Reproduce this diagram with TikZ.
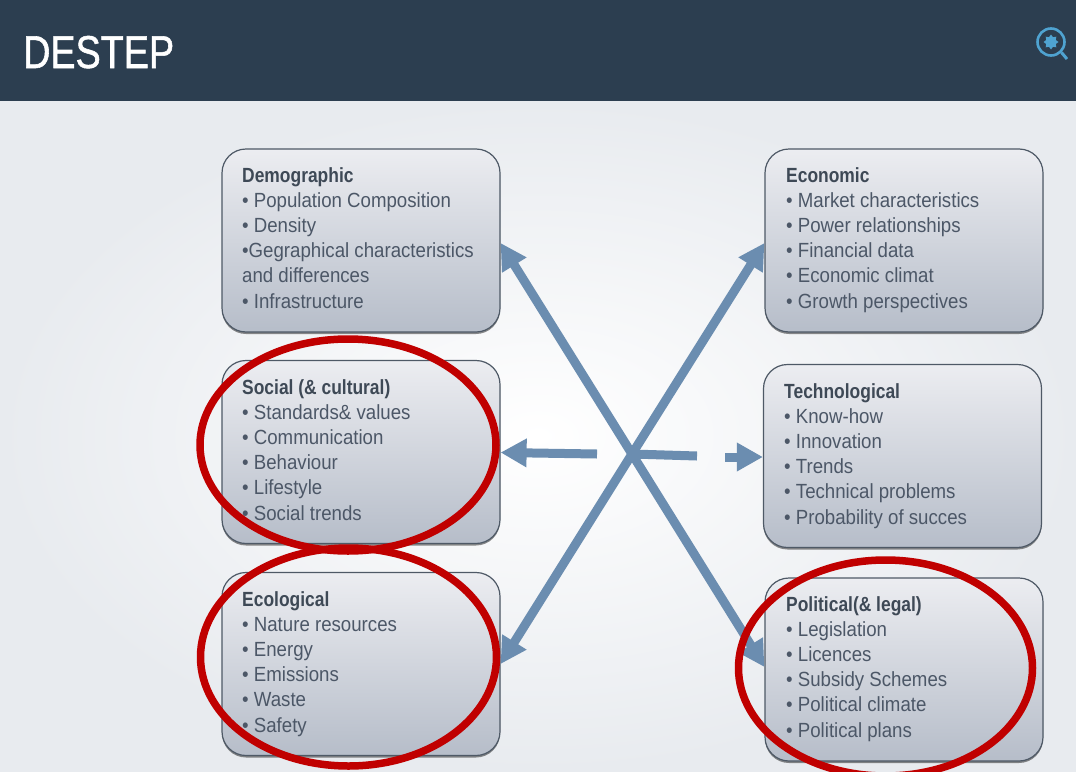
\documentclass[tikz,border=0pt]{standalone}
\usepackage{fontspec}
\setmainfont[FakeStretch=0.91,BoldFeatures={FakeStretch=0.85}]{Liberation Sans}
\newfontfamily\titlefont[FakeStretch=0.82,FakeBold=1.2]{Liberation Sans}
\usetikzlibrary{arrows.meta,shapes.geometric,shadows}
\definecolor{hdr}{HTML}{2C3E50}
\definecolor{bgedge}{HTML}{E8EBEF}
\definecolor{boxtop}{HTML}{ECEDF1}
\definecolor{boxbot}{HTML}{B6BDC9}
\definecolor{boxline}{HTML}{4E5966}
\definecolor{txt}{HTML}{4C5767}
\definecolor{ttl}{HTML}{3E4956}
\definecolor{arr}{HTML}{6B8DB0}
\definecolor{ring}{HTML}{C00000}
\definecolor{icon}{HTML}{4FA3D1}
\tikzset{
  x=1pt,y=-1pt,
  panel/.style={draw=boxline,line width=1.2pt,rounded corners=24pt,minimum width=278pt,minimum height=183pt,
    top color=boxtop,bottom color=boxbot,drop shadow={shadow xshift=0pt,shadow yshift=-2pt,opacity=.45,fill=black}},
  copy/.style={anchor=north west,inner sep=0pt,align=left,text=txt,font=\fontsize{20.5}{25.2}\selectfont},
  ringmark/.style={draw=ring,line width=7.5pt,ellipse,inner sep=0pt},
  bar/.style={draw=arr,line width=9pt},
  tipbar/.style={bar,-{Triangle[length=26pt,width=27pt,fill=arr]}},
}
\newcommand{\hd}[1]{{\color{ttl}\bfseries #1}}
\begin{document}
\begin{tikzpicture}
\useasboundingbox (0,0) rectangle (1076,771);
\path[inner color=white,outer color=bgedge] (0,101) rectangle (1076,771);
\fill[hdr] (0,0) rectangle (1076,101);
\node[anchor=base west,inner sep=0pt,text=white,font=\titlefont\fontsize{46}{46}\selectfont] (title) at (23,68) {DESTEP};
% icon
\node[circle,draw=icon,line width=2.6pt,minimum size=27pt,inner sep=0pt] (lens) at (1051,42) {};
\node[star,star points=8,star point ratio=1.45,fill=icon,minimum size=15pt,inner sep=0pt] (gear) at (1051,42) {};
\coordinate (handle) at (1067,59);
\draw[icon,line width=3pt] (lens.south east) -- (handle);
% panels
\node[panel] (dem) at (361,240.5) {};
\node[panel] (soc) at (361,452) {};
\node[panel] (eco) at (361,664) {};
\node[panel] (ecn) at (904,240.5) {};
\node[panel] (tec) at (902.5,456) {};
\node[panel] (pol) at (904,669.5) {};
\node[copy] (demt) at (242,167) {\hd{Demographic}\\• Population Composition\\• Density\\•Gegraphical characteristics\\and differences\\• Infrastructure};
\node[copy] (soct) at (242,379) {\hd{Social (\& cultural)}\\• Standards\& values\\• Communication\\• Behaviour\\• Lifestyle\\• Social trends};
\node[copy] (ecot) at (242,591) {\hd{Ecological}\\• Nature resources\\• Energy\\• Emissions\\• Waste\\• Safety};
\node[copy] (ecnt) at (786,167) {\hd{Economic}\\• Market characteristics\\• Power relationships\\• Financial data\\• Economic climat\\• Growth perspectives};
\node[copy] (tect) at (784,383) {\hd{Technological}\\• Know-how\\• Innovation\\• Trends\\• Technical problems\\• Probability of succes};
\node[copy] (polt) at (786,596) {\hd{Political(\& legal)}\\• Legislation\\• Licences\\• Subsidy Schemes\\• Political climate\\• Political plans};
% arrows
\coordinate (hub) at (632,454);
\coordinate (lgap) at (597,454);
\coordinate (rgapa) at (697,456);
\coordinate (rgapb) at (725,457);
\draw[tipbar] (hub) -- (dem.east |- 0,243);
\draw[tipbar] (hub) -- (ecn.west |- 0,243);
\draw[tipbar] (hub) -- (eco.east |- 0,664);
\draw[tipbar] (hub) -- (pol.west |- 0,667);
\draw[tipbar] (lgap) -- (soc.east |- 0,452.5);
\draw[bar] (hub) -- (rgapa);
\draw[tipbar] (rgapb) -- (tec.west |- 0,457);
% rings
\node[ringmark,minimum width=296pt,minimum height=212pt] (r1) at (348,445) {};
\node[ringmark,minimum width=296pt,minimum height=218pt] (r2) at (348.5,657) {};
\node[ringmark,minimum width=294pt,minimum height=216pt] (r3) at (885.5,668) {};
\end{tikzpicture}
\end{document}
